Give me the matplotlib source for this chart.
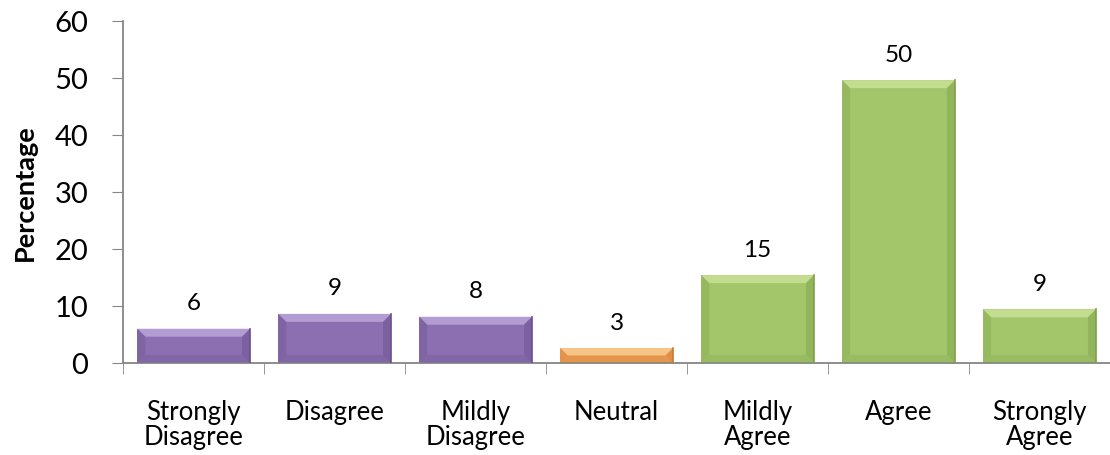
import numpy as np
import matplotlib.pyplot as plt
from matplotlib.patches import Polygon

plt.rcParams['font.family'] = ['Lato', 'DejaVu Sans']

categories = ['Strongly\nDisagree', 'Disagree', 'Mildly\nDisagree', 'Neutral',
              'Mildly\nAgree', 'Agree', 'Strongly\nAgree']
values = [6.0, 8.6, 8.1, 2.6, 15.4, 49.6, 9.4]
groups = ['dis', 'dis', 'dis', 'neu', 'agr', 'agr', 'agr']

# base, top bevel, side bevel
palette = {
    'dis': ('#8b6fb0', '#b9a5d8', '#6a5090'),
    'neu': ('#f1a055', '#f9cb92', '#c87a34'),
    'agr': ('#a3c66b', '#c9e196', '#7f9f48'),
}

fig = plt.figure(figsize=(11.1, 4.56), dpi=100)
ax = fig.add_axes([0.111, 0.202, 0.889, 0.750])

x = np.arange(len(categories))
cols = [palette[g][0] for g in groups]
bars = ax.bar(x, values, width=0.8, color=cols, edgecolor='none', zorder=2)

ax.set_xlim(-0.5, len(categories) - 0.5)
ax.set_ylim(0, 60)
fig.canvas.draw()


def bevel(bar, light, dark, size=8):
    # raised-edge look: light top band, soft darker sides and base
    x0, y0 = bar.get_x(), bar.get_y()
    w, h = bar.get_width(), bar.get_height()
    (px0, py0), (px1, py1) = ax.transData.transform([(x0, y0), (x0 + w, y0 + h)])
    s = min(size, (py1 - py0) / 2)
    inv = ax.transData.inverted()
    shapes = [
        ([(px0, py1), (px1, py1), (px1 - s, py1 - s), (px0 + s, py1 - s)], light, 0.85),
        ([(px0, py0), (px0, py1), (px0 + s, py1 - s), (px0 + s, py0 + s)], dark, 0.35),
        ([(px1, py0), (px1, py1), (px1 - s, py1 - s), (px1 - s, py0 + s)], dark, 0.45),
        ([(px0, py0), (px1, py0), (px1 - s, py0 + s), (px0 + s, py0 + s)], dark, 0.25),
    ]
    for pts, c, a in shapes:
        ax.add_patch(Polygon(inv.transform(pts), closed=True, facecolor=c,
                             edgecolor='none', alpha=a, zorder=3))
    ax.plot([x0 + w, x0 + w], [y0, y0 + h], color=dark, lw=1.2, zorder=4)


for b, g in zip(bars, groups):
    bevel(b, palette[g][1], palette[g][2])

for xi, v in zip(x, values):
    ax.annotate(f'{v:.0f}', (xi, v), xytext=(0, 14), textcoords='offset points',
                ha='center', va='baseline', fontsize=17.5)

ax.set_xticks(x)
ax.set_xticklabels(categories, fontsize=18.5, linespacing=1.0)
ax.set_xticks(np.arange(-0.5, len(categories)), minor=True)
ax.tick_params(axis='x', which='major', length=0, pad=26)
ax.tick_params(axis='x', which='minor', length=8, color='#868686')
ax.set_yticks(np.arange(0, 61, 10))
ax.tick_params(axis='y', labelsize=21, length=8, color='#868686', pad=17)
ax.set_ylabel('Percentage', fontsize=19.5, fontweight='bold', labelpad=13)

for side in ['top', 'right']:
    ax.spines[side].set_visible(False)
for side in ['left', 'bottom']:
    ax.spines[side].set_color('#868686')
    ax.spines[side].set_linewidth(1.3)

fig.savefig('out.png', dpi=100)
